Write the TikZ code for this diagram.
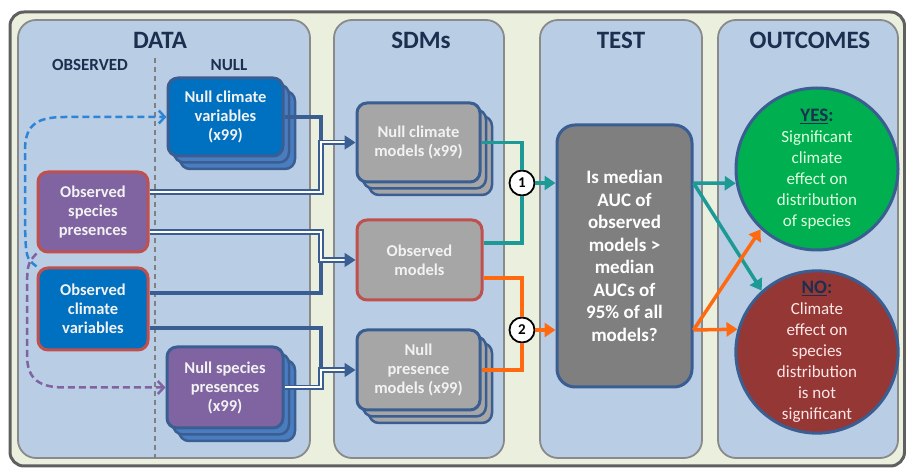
\documentclass[tikz,border=0pt]{standalone}
\usepackage{fontspec}
\setmainfont{Carlito}
\usetikzlibrary{arrows.meta,shadows}
\definecolor{frameback}{HTML}{EBF0DE}
\definecolor{frameline}{HTML}{5F5F5F}
\definecolor{panelback}{HTML}{B9CDE5}
\definecolor{panelline}{HTML}{8A8A8A}
\definecolor{navy}{HTML}{1B2F4F}
\definecolor{lineblue}{HTML}{3A5E92}
\definecolor{climblue}{HTML}{0070C0}
\definecolor{stackblue}{HTML}{4A7CC0}
\definecolor{prespurple}{HTML}{8064A2}
\definecolor{obsred}{HTML}{C0504D}
\definecolor{modelgray}{HTML}{A6A6A6}
\definecolor{testgray}{HTML}{7F7F7F}
\definecolor{yesgreen}{HTML}{00B050}
\definecolor{nored}{HTML}{953735}
\definecolor{tealline}{HTML}{1E9A96}
\definecolor{orangeline}{HTML}{FF6A10}
\definecolor{dashblue}{HTML}{2F85D5}
\definecolor{boxtext}{HTML}{F2F2F2}

\begin{document}
\begin{tikzpicture}[x=1pt,y=-1pt] % laid out on the pixel grid of the figure
    \tikzstyle{every node}+=[inner sep=0pt]
    \tikzstyle{panel}=[draw=panelline,fill=panelback,line width=1.8pt,rounded corners=18pt]
    \tikzstyle{heading}=[text=navy,font=\fontsize{25}{28}\selectfont\bfseries]
    \tikzstyle{subheading}=[text=navy,font=\fontsize{17}{19}\selectfont\bfseries]
    \tikzstyle{box}=[rectangle,rounded corners=10pt,draw=lineblue,line width=3pt,text=boxtext,align=center,font=\fontsize{16.5}{19}\selectfont\bfseries]
    \tikzstyle{obsbox}=[box,draw=obsred,line width=3pt]
    \tikzstyle{climstack}=[general shadow={shadow scale=1,shadow xshift=12pt,shadow yshift=-13pt,fill=stackblue,draw=lineblue,line width=2.5pt},general shadow={shadow scale=1,shadow xshift=6pt,shadow yshift=-6.5pt,fill=stackblue,draw=lineblue,line width=2.5pt}]
    \tikzstyle{modelstack}=[general shadow={shadow scale=1,shadow xshift=12pt,shadow yshift=-13pt,fill=modelgray,draw=lineblue,line width=2.5pt},general shadow={shadow scale=1,shadow xshift=6pt,shadow yshift=-6.5pt,fill=modelgray,draw=lineblue,line width=2.5pt}]
    \tikzstyle{clim}=[draw=lineblue,line width=3.5pt]
    \tikzstyle{pres}=[draw=lineblue,line width=1.8pt,double=white,double distance=2pt,-{Triangle[length=11pt,width=14pt]}]
    \tikzstyle{dashedarrow}=[line width=2.5pt,dash pattern=on 7pt off 4pt,-{Straight Barb[length=6pt,width=13pt]}]
    \tikzstyle{teallink}=[tealline,line width=3.5pt,-{Triangle[length=11pt,width=14pt]}]
    \tikzstyle{orangelink}=[orangeline,line width=3.5pt,-{Triangle[length=11pt,width=14pt]}]
    \tikzstyle{number}=[circle,draw=black,fill=white,line width=1.8pt,minimum size=25pt,font=\fontsize{15}{15}\selectfont\bfseries]
    \tikzstyle{outcome}=[circle,draw=lineblue,line width=3pt,minimum size=162pt,align=center,font=\fontsize{17}{21}\selectfont]

    \useasboundingbox (0,0) rectangle (906,470);
    \draw[frameline,fill=frameback,line width=3pt,rounded corners=14pt] (10,12) rectangle (904.5,466);
    \draw[panel] (18,20) rectangle (310,458);
    \draw[panel] (334,20) rectangle (504,458);
    \draw[panel] (540,20) rectangle (702,458);
    \draw[panel] (718,20) rectangle (898,458);

    \node[heading] (datatitle) at (160,40) {DATA};
    \node[heading] (sdmtitle) at (421,40) {SDMs};
    \node[heading] (testtitle) at (621,40) {TEST};
    \node[heading] (outtitle) at (810,40) {OUTCOMES};
    \node[subheading] (obshead) at (90,65) {OBSERVED};
    \node[subheading] (nullhead) at (229,65) {NULL};
    \draw[gray,line width=1.5pt,dash pattern=on 5pt off 4pt] (155,58) -- (155,458);

    \node[box,fill=climblue,climstack,minimum width=115pt,minimum height=78pt] (nullclim) at (225.5,117) {Null climate\\variables\\(x99)};
    \node[obsbox,fill=prespurple,minimum width=110pt,minimum height=80pt] (obsspec) at (93,212) {Observed\\species\\presences};
    \node[obsbox,fill=climblue,minimum width=110pt,minimum height=82pt] (obsclim) at (93,309) {Observed\\climate\\variables};
    \node[box,fill=prespurple,climstack,minimum width=116pt,minimum height=81pt] (nullspec) at (225,387.5) {Null species\\presences\\(x99)};

    \node[box,fill=modelgray,modelstack,minimum width=123pt,minimum height=79pt] (nullclimmod) at (418.5,142.5) {Null climate\\models (x99)};
    \node[obsbox,fill=modelgray,minimum width=125pt,minimum height=80pt] (obsmod) at (419.5,260) {Observed\\models};
    \node[box,fill=modelgray,modelstack,minimum width=123pt,minimum height=80pt] (nullpresmod) at (418.5,370) {Null\\presence\\models (x99)};

    \node[rectangle,rounded corners=18pt,fill=testgray,draw=lineblue,line width=3pt,minimum width=135pt,minimum height=262pt,text=white,align=center,font=\fontsize{19}{22.5}\selectfont\bfseries] (test) at (624.5,256) {Is median\\AUC of\\observed\\models >\\median\\AUCs of\\95\% of all\\models?};

    \node[outcome,fill=yesgreen,text=green!12] (yes) at (817,169) {{\color{navy}\fontsize{19}{21}\selectfont\bfseries\underline{YES}:}\\Significant\\climate\\effect on\\distribution\\of species};
    \node[outcome,fill=nored,text=red!10] (no) at (817,352) {{\color{navy}\fontsize{19}{21}\selectfont\bfseries\underline{NO}:}\\Climate\\effect on\\species\\distribution\\is not\\significant};

    \node[number] (c1) at (522,183) {1};
    \node[number] (c2) at (522,330) {2};

    \coordinate (j1) at (321,142.5);
    \coordinate (j2) at (321,260);
    \coordinate (j3) at (321,370);

    \draw[clim] (nullclim.east) -| (j1);
    \draw[clim] ([yshift=16pt]obsclim.east) -| (j2);
    \draw[clim] ([yshift=-19pt]obsclim.east) -| (j3);
    \draw[pres] ([yshift=20pt]obsspec.east) -| (j1) -- (j1 -| nullclimmod.west);
    \draw[pres] ([yshift=-20pt]obsspec.east) -| (j2) -- (j2 -| obsmod.west);
    \draw[pres] (nullspec.east) -| (j3) -- (j3 -| nullpresmod.west);

    \draw[dashblue,dashedarrow] (obsclim.north west) .. controls (26,258) .. (25,225) -- (25,150) .. controls (25,124) and (38,117) .. (65,117) -- (nullclim.west);
    \draw[prespurple,dashedarrow] (obsspec.south west) .. controls (27,264) .. (27,300) -- (27,355) .. controls (27,380) and (40,387.5) .. (65,387.5) -- (nullspec.west);

    \draw[tealline,line width=3.5pt] (nullclimmod.east) -| (c1.north);
    \draw[tealline,line width=3.5pt] ([yshift=17pt]obsmod.east) -| (c1.south);
    \draw[teallink] (c1.east) -- (c1 -| test.west);
    \draw[orangeline,line width=3.5pt] ([yshift=-18pt]obsmod.east) -| (c2.north);
    \draw[orangeline,line width=3.5pt] (nullpresmod.east) -| (c2.south);
    \draw[orangelink] (c2.east) -- (c2 -| test.west);

    \draw[teallink] (test.east |- c1) -- (yes.190);
    \draw[teallink] (test.east |- c1) -- (no.132);
    \draw[orangelink] (test.east |- c2) -- (no.164);
    \draw[orangelink] (test.east |- c2) -- (yes.227);
\end{tikzpicture}
\end{document}
